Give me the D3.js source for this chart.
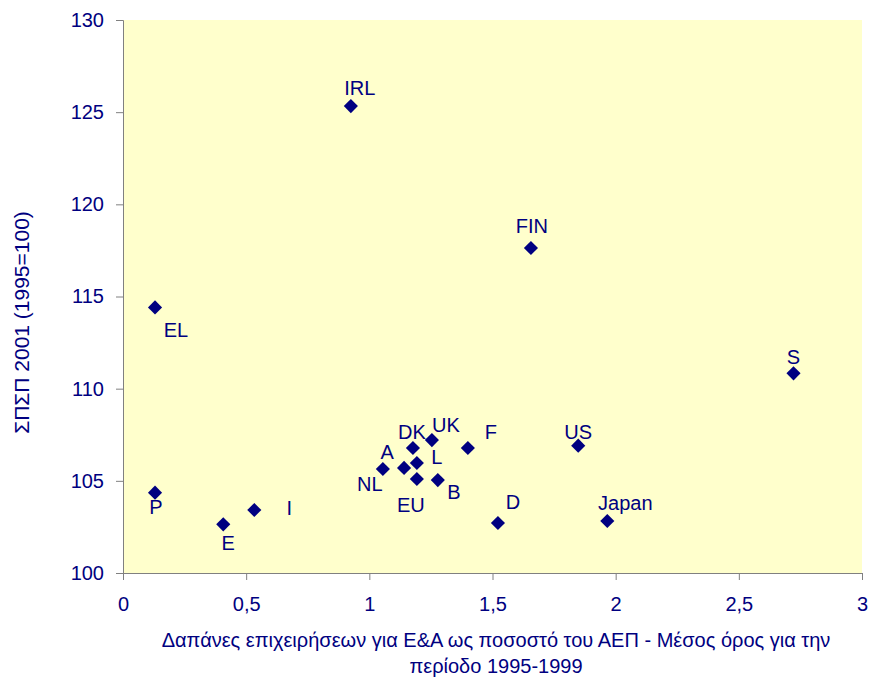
<!DOCTYPE html>
<html>
<head>
<meta charset="utf-8">
<script src="https://cdn.jsdelivr.net/npm/d3@7"></script>
<style>
  body { margin: 0; background: #fff; }
  text { font-family: "Liberation Sans", Arial, sans-serif; fill: #000080; }
</style>
</head>
<body>
<svg id="chart" width="871" height="680"></svg>
<script>
const countries = ["IRL", "FIN", "EL", "S", "DK", "UK", "F", "US", "NL", "A", "L", "EU", "B", "D", "Japan", "P", "I", "E"];
const berd =      [0.925, 1.656, 0.13, 2.722, 1.177, 1.254, 1.40, 1.848, 1.055, 1.141, 1.193, 1.193, 1.278, 1.522, 1.966, 0.13, 0.533, 0.407];
const gdpIndex =  [125.33, 117.63, 114.41, 110.83, 106.78, 107.21, 106.78, 106.91, 105.64, 105.70, 105.97, 105.10, 105.04, 102.71, 102.82, 104.36, 103.42, 102.64];

const xTicks = [0, 0.5, 1, 1.5, 2, 2.5, 3];
const yTicks = [100, 105, 110, 115, 120, 125, 130];

// label placement relative to marker (px), like the hand-moved excel labels
const labelOffset = {
  IRL: [9, -11], FIN: [1, -15], EL: [21, 30], S: [0, -9], DK: [-1, -9],
  UK: [14, -8], F: [23, -9], US: [0, -7], NL: [-13, 22], A: [-17, -9],
  L: [20, 1], EU: [-6, 33], B: [16, 19], D: [15, -14], Japan: [18, -11],
  P: [1, 21], I: [35, 5], E: [5, 26]
};

const svg = d3.select("#chart");
const m = { left: 123, right: 862, top: 20, bottom: 573 };

const x = d3.scaleLinear().domain([0, 3]).range([m.left, m.right]);
const y = d3.scaleLinear().domain([100, 130]).range([m.bottom, m.top]);

svg.append("rect")
  .attr("x", m.left).attr("y", m.top)
  .attr("width", m.right - m.left).attr("height", m.bottom - m.top)
  .attr("fill", "#FFFFCC");

const xAxis = svg.append("g")
  .attr("transform", `translate(0,${m.bottom})`)
  .call(d3.axisBottom(x).tickValues(xTicks).tickSize(7).tickPadding(17)
    .tickFormat(d => String(d).replace(".", ",")));

const yAxis = svg.append("g")
  .attr("transform", `translate(${m.left},0)`)
  .call(d3.axisLeft(y).tickValues(yTicks).tickSize(7).tickPadding(12));

[xAxis, yAxis].forEach(g => {
  g.select(".domain").attr("stroke", "#808080");
  g.selectAll(".tick line").attr("stroke", "#808080");
  g.selectAll(".tick text")
    .style("font-size", "20px")
    .attr("fill", "#000080");
});

const pts = countries.map((c, i) => ({ name: c, x: berd[i], y: gdpIndex[i] }));

svg.append("g").selectAll("path")
  .data(pts)
  .enter()
  .append("path")
  .attr("d", d3.symbol(d3.symbolSquare, 100))
  .attr("transform", d => `translate(${x(d.x)},${y(d.y)}) rotate(45)`)
  .attr("fill", "#000080");

svg.append("g").selectAll("text")
  .data(pts)
  .enter()
  .append("text")
  .attr("x", d => x(d.x) + labelOffset[d.name][0])
  .attr("y", d => y(d.y) + labelOffset[d.name][1])
  .attr("text-anchor", "middle")
  .style("font-size", "20px")
  .text(d => d.name);

svg.append("text")
  .attr("transform", `translate(29,${(m.top + m.bottom) / 2 + 26}) rotate(-90)`)
  .attr("text-anchor", "middle")
  .style("font-size", "21px")
  .text("ΣΠΣΠ 2001 (1995=100)");

const xTitle = svg.append("text")
  .attr("text-anchor", "middle")
  .style("font-size", "20px");
xTitle.append("tspan").attr("x", 496).attr("y", 647)
  .text("Δαπάνες επιχειρήσεων για Ε&Α ως ποσοστό του ΑΕΠ - Μέσος όρος για την");
xTitle.append("tspan").attr("x", 496).attr("y", 673)
  .text("περίοδο 1995-1999");
</script>
</body>
</html>
